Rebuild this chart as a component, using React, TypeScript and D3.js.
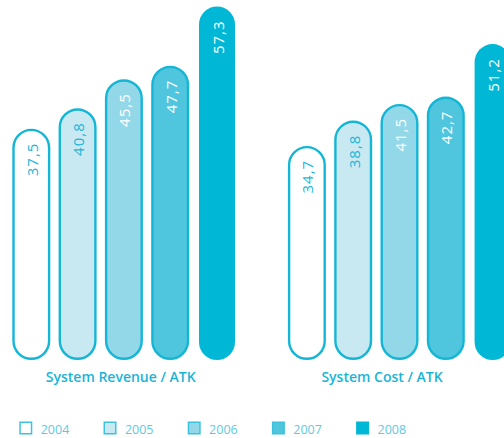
import React from "react";
import * as d3 from "d3";

const years = ["2004", "2005", "2006", "2007", "2008"];
const categories = ["System Revenue / ATK", "System Cost / ATK"];
const revenueValues = [37.5, 40.8, 45.5, 47.7, 57.3];
const costValues = [34.7, 38.8, 41.5, 42.7, 51.2];
const valueLabels = [
  ["37,5", "40,8", "45,5", "47,7", "57,3"],
  ["34,7", "38,8", "41,5", "42,7", "51,2"],
];
const fills = ["#ffffff", "#c8e9f2", "#93d8e8", "#4fc5de", "#00b8d6"];
const labelColors = ["#1db6d7", "#1db6d7", "#ffffff", "#ffffff", "#ffffff"];
const STROKE = "#14b6d6";

const W = 504;
const H = 438;
const BAR_W = 36;
const BASE = 360;

export default function App() {
  const series = [revenueValues, costValues];
  const xGroup = d3.scaleBand<string>().domain(categories).range([13.3, 13.3 + 2 * 275.6]).padding(0);
  const xYear = d3
    .scaleBand<string>()
    .domain(years)
    .range([0, 221.2])
    .paddingInner(0.2225)
    .paddingOuter(0);
  const y = d3.scaleLinear().domain([0, 60]).range([BASE, BASE - 60 * 6.17]);

  const legendX = d3.scalePoint<string>().domain(years).range([19.3, 19.3 + 4 * 84.2]);

  return (
    <svg
      width={W}
      height={H}
      style={{ position: "absolute", left: 0, top: 0, display: "block" }}
      fontFamily="'Open Sans', 'Noto Sans', sans-serif"
    >
      <defs>
        <clipPath id="clip">
          <rect x={0} y={0} width={W} height={H} />
        </clipPath>
      </defs>
      <g clipPath="url(#clip)">
        {categories.map((cat, gi) => {
          const gx = xGroup(cat)!;
          return (
            <g key={cat} transform={`translate(${gx},0)`}>
              {series[gi].map((v, i) => {
                const yr = years[i];
                const bx = xYear(yr)!;
                const cx = bx + BAR_W / 2;
                const top = y(v);
                const solid = i === 4;
                const sw = solid ? 0 : 2.4;
                const outerW = solid ? 36 : 38;
                const ox = solid ? cx + 0.5 - outerW / 2 : cx - outerW / 2;
                const rx = outerW / 2 - sw / 2;
                return (
                  <g key={yr}>
                    <rect
                      x={ox + sw / 2}
                      y={top + sw / 2}
                      width={outerW - sw}
                      height={BASE - top - sw}
                      rx={rx}
                      ry={rx}
                      fill={fills[i]}
                      stroke={solid ? "none" : STROKE}
                      strokeWidth={sw}
                    />
                    <text
                      transform={`translate(${ox + outerW / 2 + 0.5},${top + 14}) rotate(-90)`}
                      textAnchor="end"
                      dominantBaseline="central"
                      fontSize={15}
                      letterSpacing={1}
                      fill={labelColors[i]}
                    >
                      {valueLabels[gi][i]}
                    </text>
                  </g>
                );
              })}
              <text x={32.5} y={382} fontSize={14} fontWeight={600} fill="#1ab5d6">
                {cat}
              </text>
            </g>
          );
        })}
      </g>
      <g>
        {years.map((yr, i) => {
          const lx = legendX(yr)!;
          const solid = i === 4;
          return (
            <g key={yr}>
              <rect
                x={solid ? lx : lx + 0.75}
                y={solid ? 421.5 : 422.25}
                width={solid ? 13 : 11.5}
                height={solid ? 13 : 11.5}
                fill={fills[i]}
                stroke={solid ? "none" : "#3cc2de"}
                strokeWidth={1.5}
              />
              <text x={lx + 21.4} y={434} fontSize={12.5} fill="#5ec9e1">
                {yr}
              </text>
            </g>
          );
        })}
      </g>
    </svg>
  );
}
